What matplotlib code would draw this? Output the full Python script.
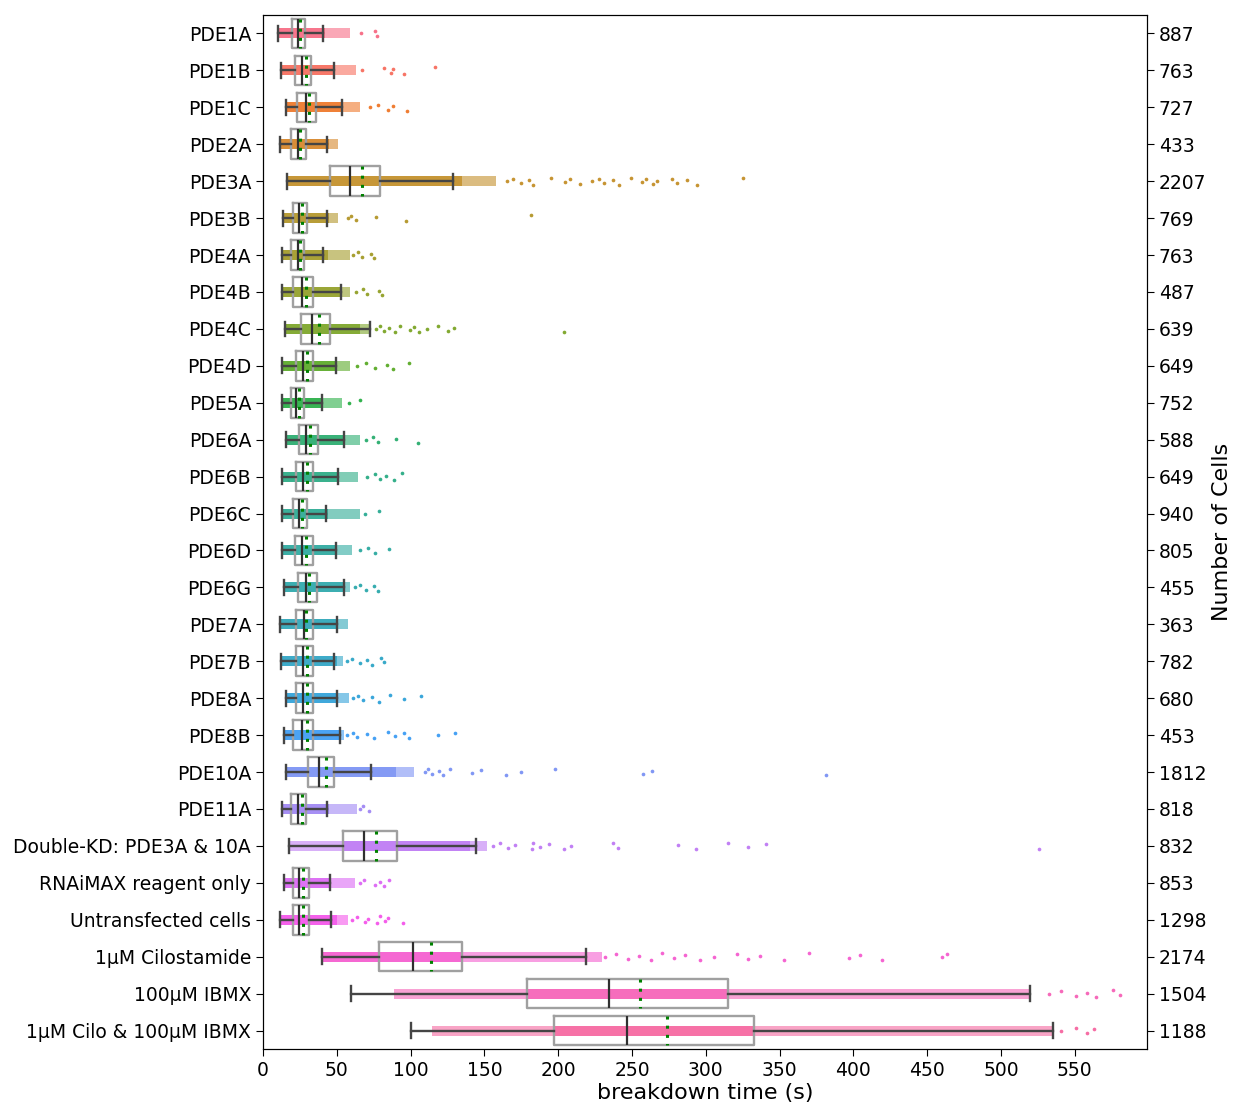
import matplotlib
matplotlib.use("Agg")
import matplotlib.pyplot as plt
import seaborn as sns

categories = ["PDE1A", "PDE1B", "PDE1C", "PDE2A", "PDE3A", "PDE3B", "PDE4A", "PDE4B",
              "PDE4C", "PDE4D", "PDE5A", "PDE6A", "PDE6B", "PDE6C", "PDE6D", "PDE6G",
              "PDE7A", "PDE7B", "PDE8A", "PDE8B", "PDE10A", "PDE11A",
              "Double-KD: PDE3A & 10A", "RNAiMAX reagent only", "Untransfected cells",
              "1µM Cilostamide", "100µM IBMX", "1µM Cilo & 100µM IBMX"]
n_cells = [887, 763, 727, 433, 2207, 769, 763, 487, 639, 649, 752, 588, 649, 940, 805,
           455, 363, 782, 680, 453, 1812, 818, 832, 853, 1298, 2174, 1504, 1188]

whisker_lo = [10.4, 12.2, 15.6, 11.3, 16.0, 13.5, 12.6, 13.1, 14.9, 12.9, 12.9, 15.8, 13.1, 12.6,
              13.1, 14.2, 11.7, 12.0, 15.6, 14.2, 15.8, 13.1, 17.8, 14.2, 11.7, 40.0, 59.5, 100.3]
q1 = [19.6, 21.9, 22.8, 18.7, 45.4, 20.3, 19.2, 20.5, 25.5, 22.1, 18.7, 24.4, 22.4, 20.3,
      21.9, 23.5, 22.4, 22.4, 22.1, 20.5, 30.7, 19.0, 53.9, 20.1, 20.5, 78.6, 178.9, 197.3]
median = [23.5, 26.6, 28.9, 23.5, 58.7, 24.4, 23.7, 26.4, 33.0, 26.8, 22.4, 29.3, 27.1, 24.4,
          26.6, 29.1, 27.8, 27.3, 26.8, 26.2, 37.9, 23.5, 68.4, 24.6, 24.6, 101.6, 234.6, 246.7]
mean = [25.1, 29.1, 31.4, 24.8, 66.8, 26.6, 25.3, 29.3, 38.1, 29.6, 24.2, 31.8, 30.0, 26.6,
        29.1, 31.4, 29.3, 29.6, 29.6, 29.8, 42.5, 26.2, 76.5, 27.1, 27.1, 113.6, 255.2, 274.0]
q3 = [28.4, 32.5, 35.7, 28.9, 79.2, 29.8, 28.0, 33.9, 45.4, 33.7, 27.8, 37.0, 34.1, 29.8,
      33.9, 36.8, 34.1, 33.7, 34.1, 33.7, 48.1, 29.3, 90.5, 31.0, 31.0, 135.0, 315.2, 332.7]
whisker_hi = [40.4, 47.9, 53.3, 43.3, 129.0, 43.1, 40.6, 53.0, 72.5, 49.7, 39.8, 54.6, 50.8, 42.7,
              49.4, 54.9, 50.1, 48.1, 50.4, 52.2, 73.2, 43.3, 144.0, 45.6, 45.8, 219.0, 519.6, 535.1]

# extent of the solid (dense) part of each point cloud
dense_lo = [10.4, 12.2, 15.6, 11.3, 16.0, 13.5, 12.6, 13.1, 14.9, 12.9, 12.9, 15.8, 13.1, 12.6,
            13.1, 14.2, 11.7, 12.0, 15.6, 14.2, 15.8, 13.1, 53.9, 14.2, 11.7, 40.0, 178.9, 197.3]
dense_hi = [42, 48, 54, 45, 135, 45, 44, 52, 66, 50, 40, 55, 51, 44,
            50, 55, 50, 50, 51, 52, 90, 45, 140, 46, 50, 135, 315, 333]
# extent of the looser part of each point cloud
sparse_lo = [10.4, 12.2, 15.6, 11.3, 16.0, 13.5, 12.6, 13.1, 14.9, 12.9, 12.9, 15.8, 13.1, 12.6,
             13.1, 14.2, 11.7, 12.0, 15.6, 14.2, 15.8, 13.1, 17.8, 14.2, 11.7, 40.0, 89.0, 114.7]
sparse_hi = [59, 63, 66, 51, 158, 51, 59, 58.9, 72, 58.9, 53.3, 65.7, 64.5, 65.7,
             60, 58.9, 57.8, 54.3, 58, 55, 102, 63.5, 152, 62.3, 57.8, 230, 519.6, 535.1]

outliers = [
    [66.4, 76.0, 77.5],
    [66.8, 82.2, 86.7, 88.2, 95.6, 116.2],
    [72.5, 78.1, 84.4, 87.8, 97.3],
    [],
    [165, 169.6, 174.8, 180.4, 183.1, 195.1, 204.6, 208, 214.7, 222.6, 227.6, 231.2, 237.3,
     241.4, 249.3, 257, 259.2, 264.4, 267.1, 277.3, 280.2, 287.2, 294.2, 325.1],
    [57.3, 59.3, 62.8, 76.7, 96.9, 181.5],
    [61.2, 64.6, 67.3, 73.2, 75.4],
    [63.3, 67.5, 70.2, 78.6, 80.8],
    [76.5, 79.4, 82.1, 85.5, 89.6, 92.8, 99.6, 102.3, 105.9, 110.9, 118.3, 125.5, 129.6, 204.1],
    [63.5, 69.8, 75.6, 83.8, 88.3, 98.9],
    [58.5, 65.5],
    [69.8, 74.7, 78.1, 90.1, 104.7],
    [70.2, 75.8, 79.2, 83.3, 88.7, 94.4],
    [69.1, 78.8],
    [65.7, 71.3, 75.8, 85.4],
    [62.3, 65.7, 69.8, 75.4, 78.1],
    [],
    [57.1, 60.1, 65.7, 70.2, 73.6, 79.7, 82.0],
    [61.2, 64.6, 68.0, 73.6, 78.8, 86.0, 95.3, 107.2],
    [57.1, 61.2, 63.5, 70.2, 75.4, 84.4, 89.4, 95.3, 99.1, 118.9, 129.8],
    [109.7, 112, 114.7, 119.2, 121.7, 126.6, 141.3, 147.7, 164.6, 174.8, 197.8, 257.6, 263.9, 381.3],
    [65.7, 68.0, 71.8],
    [156, 160.5, 166.2, 170.7, 182, 183.1, 187.6, 193.9, 203.9, 208.6, 237.3, 240.3, 280.9,
     293.7, 315, 328.5, 341, 526],
    [65.7, 68.4, 75.8, 79.4, 82.0, 85.5],
    [60.1, 63.9, 69.1, 70.9, 77.0, 79.4, 82.6, 84.4, 94.6],
    [231.6, 239.3, 247.1, 254.9, 262.7, 270.5, 278.3, 286, 295.8, 305.5, 321, 328.8, 336.6,
     353, 369.7, 397, 404.8, 419.6, 460.1, 463.6],
    [532.4, 541, 550.7, 558.5, 564.3, 576, 580.6],
    [541, 550.7, 558.5, 563.2],
]

# ---------------------------------------------------------------- drawing
palette = sns.color_palette("husl", len(categories))
fig = plt.figure(figsize=(12.36, 11.04), dpi=100)
ax = fig.add_axes([0.2128, 0.0498, 0.928 - 0.2128, 0.9864 - 0.0498])

band_h = 0.27
jit = [0.0, -0.07, 0.06, -0.03, 0.09, -0.09, 0.03, -0.05, 0.08]
for i, c in enumerate(categories):
    col = palette[i]
    ax.barh(i, sparse_hi[i] - sparse_lo[i], left=sparse_lo[i], height=band_h,
            color=col, alpha=0.62, linewidth=0, zorder=1)
    ax.barh(i, dense_hi[i] - dense_lo[i], left=dense_lo[i], height=band_h,
            color=col, alpha=0.92, linewidth=0, zorder=1)
    if outliers[i]:
        ys = [i + jit[k % len(jit)] for k in range(len(outliers[i]))]
        ax.scatter(outliers[i], ys, s=7, color=col, linewidths=0, zorder=2)

stats = []
for i, c in enumerate(categories):
    stats.append(dict(med=median[i], q1=q1[i], q3=q3[i], whislo=whisker_lo[i],
                      whishi=whisker_hi[i], mean=mean[i], fliers=[], label=c))
ax.bxp(stats, positions=list(range(len(categories))), widths=0.8,
       orientation="horizontal", showmeans=True, meanline=True, showfliers=False,
       boxprops=dict(color="#a0a0a0", linewidth=1.7),
       whiskerprops=dict(color="#454545", linewidth=1.7),
       capprops=dict(color="#454545", linewidth=1.7),
       medianprops=dict(color="#303030", linewidth=1.6),
       meanprops=dict(color="green", linestyle=(0, (1, 2)), linewidth=2.2),
       manage_ticks=False, zorder=3)

ax.set_xlim(0, 599)
ax.set_ylim(len(categories) - 0.5, -0.5)
ax.set_xticks(range(0, 551, 50))
ax.set_yticks(range(len(categories)))
ax.set_yticklabels(categories)
ax.tick_params(axis="both", labelsize=13.5, length=5)
ax.set_xlabel("breakdown time (s)", fontsize=16, labelpad=2)

ax2 = ax.twinx()
ax2.set_ylim(ax.get_ylim())
ax2.set_yticks(range(len(categories)))
ax2.set_yticklabels([str(n) for n in n_cells])
ax2.tick_params(axis="y", labelsize=13.5, length=5)
ax2.set_ylabel("Number of Cells", fontsize=16)

fig.savefig("out.png", dpi=100)
